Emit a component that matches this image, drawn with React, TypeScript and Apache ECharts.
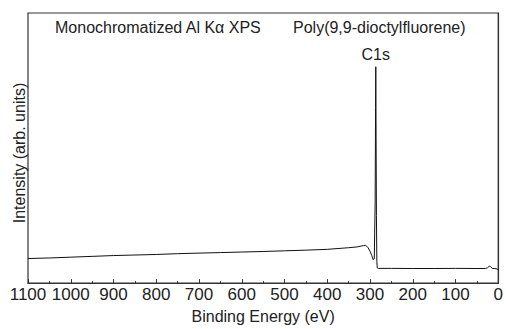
import React, { useEffect, useRef } from "react";
import * as echarts from "echarts";

const energies = [1100, 1050, 1000, 950, 900, 850, 800, 750, 700, 650, 600, 550, 500, 450, 400, 350, 330, 315, 310, 305, 300, 296, 293, 290, 288, 287, 286.5, 286, 285, 284, 283, 280, 250, 200, 150, 100, 50, 30, 25, 21, 18, 14, 8, 3, 0];
const intensities = [9.1, 9.3, 9.6, 9.9, 10.2, 10.4, 10.6, 10.9, 11.1, 11.3, 11.5, 11.7, 11.95, 12.2, 12.5, 13.1, 13.4, 13.9, 14.0, 13.2, 11.8, 10.3, 8.7, 9.0, 30, 65, 80.1, 60, 25, 8, 5.6, 5.45, 5.45, 5.4, 5.4, 5.45, 5.4, 5.4, 5.7, 6.3, 6.1, 5.4, 5.4, 5.2, 5.0];
const peakLabel = "C1s";
const peakEnergy = 286.5;
const titleLeft = "Monochromatized Al K\u03b1 XPS";
const titleRight = "Poly(9,9-dioctylfluorene)";
const xName = "Binding Energy (eV)";
const yName = "Intensity (arb. units)";

const FONT = "'Liberation Sans', Arial, Helvetica, sans-serif";

export default function App() {
  const ref = useRef<HTMLDivElement>(null);
  useEffect(() => {
    if (!ref.current) return;
    const chart = echarts.init(ref.current, undefined, { renderer: "svg" });
    const data = energies.map((e, i) => [e, intensities[i]]);
    const peakIdx = energies.indexOf(peakEnergy);
    chart.setOption({
      animation: false,
      backgroundColor: "#fff",
      grid: {
        left: 28,
        right: 5,
        top: 13,
        bottom: 40,
        show: true,
        borderColor: "#333",
        borderWidth: 1.2,
        backgroundColor: "transparent",
      },
      xAxis: {
        type: "value",
        min: 0,
        max: 1100,
        interval: 100,
        inverse: true,
        name: xName,
        nameLocation: "middle",
        nameGap: 21,
        nameTextStyle: { fontSize: 16, fontFamily: FONT, color: "#222" },
        axisLine: { show: true, lineStyle: { color: "#333", width: 1.2 } },
        axisTick: { show: true, inside: true, length: 4, lineStyle: { color: "#333" } },
        minorTick: { show: true, splitNumber: 2, length: 2, lineStyle: { color: "#333" } },
        axisLabel: {
          fontSize: 17,
          fontFamily: FONT,
          color: "#222",
          margin: 3,
          formatter: (v: number) => String(v),
        },
        splitLine: { show: false },
      },
      yAxis: {
        type: "value",
        min: 0,
        max: 100,
        axisLine: { show: true, lineStyle: { color: "#333", width: 1.2 } },
        axisTick: { show: false },
        axisLabel: { show: false },
        splitLine: { show: false },
      },
      graphic: [
        {
          type: "text",
          left: 55,
          top: 19,
          style: { text: titleLeft, fontSize: 16, fontFamily: FONT, fill: "#222" },
        },
        {
          type: "text",
          left: 293,
          top: 19,
          style: { text: titleRight, fontSize: 16, fontFamily: FONT, fill: "#222" },
        },
        {
          type: "text",
          x: 19,
          y: 153,
          rotation: Math.PI / 2,
          style: {
            text: yName,
            fontSize: 16,
            fontFamily: FONT,
            fill: "#222",
            align: "center",
            verticalAlign: "middle",
          },
        },
      ],
      series: [
        {
          type: "line",
          data,
          showSymbol: false,
          symbol: "none",
          lineStyle: { color: "#111", width: 1 },
          emphasis: { disabled: true },
          markPoint: {
            symbol: "circle",
            symbolSize: 1,
            itemStyle: { color: "rgba(0,0,0,0)" },
            label: {
              show: true,
              position: "top",
              distance: 4,
              formatter: peakLabel,
              fontSize: 16,
              fontFamily: FONT,
              color: "#222",
            },
            emphasis: { disabled: true },
            data: [{ coord: [peakEnergy, intensities[peakIdx]] }],
          },
        },
      ],
    });
    return () => chart.dispose();
  }, []);
  return <div ref={ref} style={{ width: 506, height: 329, position: "absolute", left: 0, top: 0 }} />;
}
